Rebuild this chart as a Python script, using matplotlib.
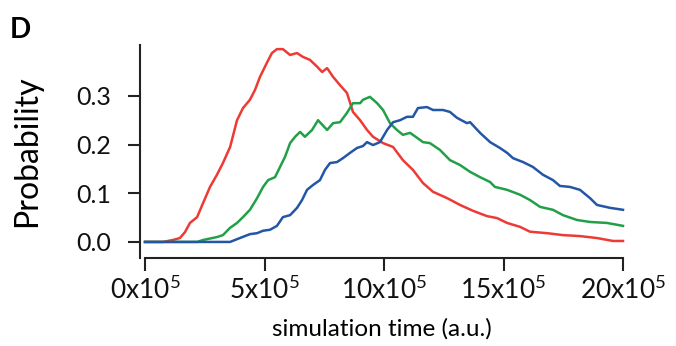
import numpy as np
import matplotlib
matplotlib.use("Agg")
import matplotlib.pyplot as plt

plt.rcParams['font.family'] = ['Lato', 'DejaVu Sans']
plt.rcParams['mathtext.fontset'] = 'custom'
plt.rcParams['mathtext.rm'] = 'Lato'

# x in units of 1e5 simulation time
red_x = [0, 0.75, 1.17, 1.46, 1.67, 1.88, 2.18, 2.43, 2.72, 3.01,
         3.26, 3.56, 3.85, 4.10, 4.39, 4.60, 4.81, 5.10, 5.31, 5.52,
         5.77, 6.07, 6.36, 6.61, 6.90, 7.20, 7.41, 7.62, 7.87, 8.16,
         8.45, 8.70, 9.00, 9.29, 9.54, 9.96, 10.38, 10.79, 11.21, 11.63,
         12.05, 12.64, 13.18, 13.72, 14.31, 14.73, 15.15, 15.69, 16.11, 16.82,
         17.49, 18.20, 18.91, 19.58, 20.0]
red_y = [0, 0, 0.004, 0.008, 0.02, 0.039, 0.051, 0.08, 0.113, 0.138,
         0.162, 0.195, 0.25, 0.275, 0.292, 0.312, 0.339, 0.368, 0.388, 0.396,
         0.396, 0.384, 0.388, 0.38, 0.374, 0.36, 0.349, 0.357, 0.339, 0.322,
         0.306, 0.267, 0.25, 0.23, 0.216, 0.203, 0.195, 0.168, 0.148, 0.121,
         0.103, 0.09, 0.076, 0.064, 0.053, 0.049, 0.039, 0.031, 0.021, 0.018,
         0.014, 0.012, 0.008, 0.002, 0.002]

green_x = [0, 2.18, 2.43, 3.01, 3.26, 3.56, 3.85, 4.10, 4.39, 4.69,
           4.94, 5.15, 5.44, 5.65, 5.86, 6.07, 6.28, 6.49, 6.69, 6.99,
           7.24, 7.62, 7.87, 8.16, 8.45, 8.70, 9.00, 9.12, 9.41, 9.71,
           9.96, 10.25, 10.54, 10.79, 11.09, 11.38, 11.63, 11.92, 12.34, 12.76,
           13.18, 13.60, 14.02, 14.44, 14.64, 15.15, 15.69, 16.11, 16.53, 17.07,
           17.49, 18.08, 18.62, 19.33, 20.0]
green_y = [0, 0, 0.004, 0.01, 0.014, 0.029, 0.039, 0.051, 0.066, 0.09,
           0.113, 0.127, 0.133, 0.154, 0.175, 0.203, 0.216, 0.226, 0.216, 0.23,
           0.25, 0.23, 0.244, 0.246, 0.265, 0.285, 0.285, 0.292, 0.298, 0.285,
           0.271, 0.244, 0.23, 0.22, 0.224, 0.214, 0.205, 0.203, 0.189, 0.168,
           0.158, 0.144, 0.133, 0.123, 0.113, 0.107, 0.097, 0.086, 0.072, 0.066,
           0.055, 0.045, 0.041, 0.039, 0.033]

blue_x = [0, 3.01, 3.56, 3.97, 4.39, 4.69, 4.94, 5.23, 5.52, 5.77,
          6.07, 6.36, 6.57, 6.78, 7.03, 7.32, 7.53, 7.74, 8.03, 8.28,
          8.58, 8.87, 9.12, 9.29, 9.54, 9.83, 10.13, 10.38, 10.67, 10.96,
          11.21, 11.42, 11.80, 12.05, 12.47, 12.76, 13.05, 13.47, 13.60, 14.02,
          14.44, 14.85, 15.15, 15.40, 15.82, 16.23, 16.65, 17.07, 17.36, 17.78,
          18.20, 18.62, 18.91, 19.46, 20.0]
blue_y = [0, 0, 0, 0.008, 0.016, 0.018, 0.023, 0.025, 0.033, 0.051,
          0.055, 0.07, 0.086, 0.107, 0.117, 0.127, 0.148, 0.162, 0.164, 0.172,
          0.183, 0.193, 0.197, 0.205, 0.199, 0.205, 0.23, 0.246, 0.25, 0.257,
          0.257, 0.275, 0.277, 0.271, 0.271, 0.267, 0.255, 0.244, 0.246, 0.224,
          0.205, 0.193, 0.183, 0.172, 0.164, 0.154, 0.138, 0.127, 0.115, 0.113,
          0.107, 0.09, 0.076, 0.07, 0.066]

x_ticks = [0, 5, 10, 15, 20]
x_labels = [r'$\mathregular{%dx10^{5}}$' % t for t in x_ticks]
y_ticks = [0.0, 0.1, 0.2, 0.3]
y_labels = ['0.0', '0.1', '0.2', '0.3']

fig = plt.figure(figsize=(6.76, 3.46), dpi=100)
ax = fig.add_axes([140/676, 88/346, 483/676, 213/346])

ax.plot(red_x, red_y, color='#EE3A35', lw=1.8, clip_on=False)
ax.plot(green_x, green_y, color='#22A048', lw=1.8, clip_on=False)
ax.plot(blue_x, blue_y, color='#2356A6', lw=1.8, clip_on=False)

ax.set_xlim(-0.21, 20)
ax.set_ylim(-0.033, 0.4045)
ax.spines['top'].set_visible(False)
ax.spines['right'].set_visible(False)
ax.spines['bottom'].set_bounds(0, 20)
for s in ['left', 'bottom']:
    ax.spines[s].set_linewidth(1.5)
    ax.spines[s].set_color('#222222')

ax.set_xticks(x_ticks)
ax.set_xticklabels(x_labels)
ax.set_yticks(y_ticks)
ax.set_yticklabels(y_labels)
ax.tick_params(direction='out', length=9, width=1.5, color='#222222',
               labelsize=18, labelcolor='#111111')
ax.tick_params(axis='y', pad=12)
ax.tick_params(axis='x', pad=4, labelsize=19)

ax.set_xlabel('simulation time (a.u.)', fontsize=17.5, labelpad=10)
ax.set_ylabel('Probability', fontsize=23, labelpad=24)

fig.text(0.014, 0.89, 'D', fontsize=20, fontweight='bold', ha='left', va='baseline')
# panel title above, mostly cut off by the figure edge
fig.text(0.44, 1.011, 'Duration of amplitude', fontsize=16, ha='center', va='baseline',
         color='#333333')

fig.savefig('out.png', dpi=100)
